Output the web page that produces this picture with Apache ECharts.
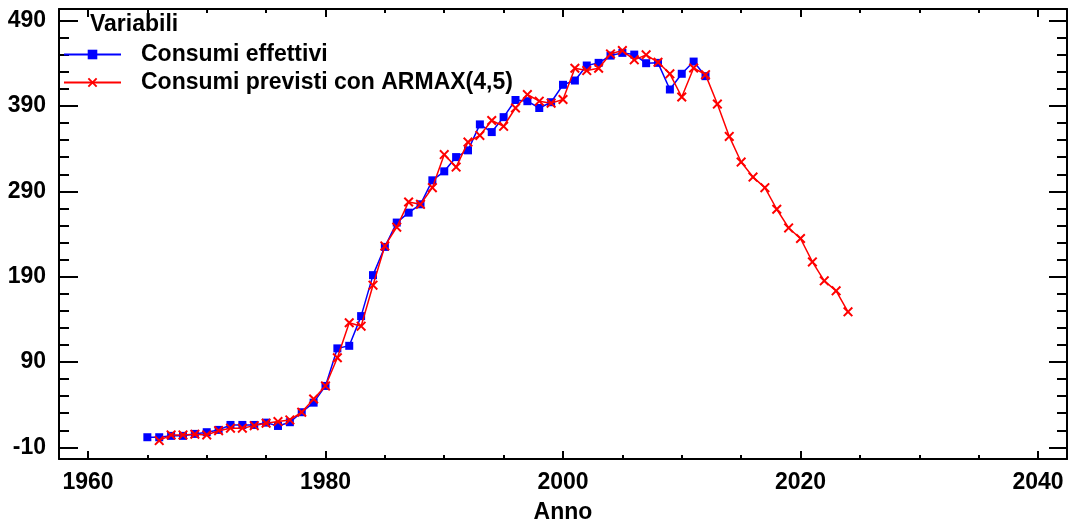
<!DOCTYPE html>
<html>
<head>
<meta charset="utf-8">
<script src="https://cdn.jsdelivr.net/npm/echarts@6/dist/echarts.min.js"></script>
<style>html,body{margin:0;padding:0;background:#fff}#c{width:1070px;height:526px}</style>
</head>
<body>
<div id="c"></div>
<script>
// ---- data ----
var actualYears = [1965,1966,1967,1968,1969,1970,1971,1972,1973,1974,1975,1976,1977,1978,1979,1980,1981,1982,1983,1984,1985,1986,1987,1988,1989,1990,1991,1992,1993,1994,1995,1996,1997,1998,1999,2000,2001,2002,2003,2004,2005,2006,2007,2008,2009,2010,2011,2012];
var actualValues = [1.9,1.9,3.5,3.5,5.8,7.8,10.5,16.3,16.3,16.3,19,15.1,19.5,31.2,42.4,62,106,109,143.8,191.8,224.9,253.4,265,274.8,302.9,313.4,330.1,338,368.4,359.4,376.9,397,395.6,387.6,394.4,414.8,419.8,437.4,440.5,449,452.2,450.2,440.1,440.5,409.3,427.7,442,424.9];
var forecastYears = [1966,1967,1968,1969,1970,1971,1972,1973,1974,1975,1976,1977,1978,1979,1980,1981,1982,1983,1984,1985,1986,1987,1988,1989,1990,1991,1992,1993,1994,1995,1996,1997,1998,1999,2000,2001,2002,2003,2004,2005,2006,2007,2008,2009,2010,2011,2012,2013,2014,2015,2016,2017,2018,2019,2020,2021,2022,2023,2024];
var forecastValues = [-2.0,4.6,4.6,5.4,4.6,9.6,12.5,12.5,15.5,18.3,20.2,22.2,31.2,46.7,62,95,136,132,180,226,248,277.5,274.8,294.3,333,318.4,347.7,355.5,373,366.2,387.6,403.4,395.6,393.3,397.6,434.2,431.5,434.2,451,454.9,444,449.9,441.2,427.7,400.5,434.5,426.7,392.2,354.3,324.3,306.7,294.3,269,247.1,234.7,207.3,185.1,173.4,148.8];
var seriesNames = ['Consumi effettivi','Consumi previsti con ARMAX(4,5)'];
var legendTitle = 'Variabili';
var xAxisName = 'Anno';
var xMajorTicks = [1960,1980,2000,2020,2040];
var xMinorTicks = [1965,1970,1975,1985,1990,1995,2005,2010,2015,2025,2030,2035];
var yMajorTicks = [-10,90,190,290,390,490];
var yMinorTicks = [10,30,50,70,110,130,150,170,210,230,250,270,310,330,350,370,410,430,450,470];

function pairs(xs, ys){ var out=[]; for(var i=0;i<xs.length;i++){ out.push([xs[i], ys[i]]); } return out; }

var FONT = '"Liberation Sans", Arial, sans-serif';
var X_MIN = 1957.56, X_MAX = 2042.44, Y_MIN = -23.6, Y_MAX = 503.6;
var crossPath = 'path://M0,1.4L1.4,0L5,3.6L8.6,0L10,1.4L6.4,5L10,8.6L8.6,10L5,6.4L1.4,10L0,8.6L3.6,5Z';

function xAx(pos, ticks, len, showLine, showLabel){
  return {
    type:'value', position:pos, min:X_MIN, max:X_MAX, gridIndex:0,
    name: (pos==='bottom' && showLabel) ? xAxisName : '',
    nameLocation:'middle', nameGap:42,
    nameTextStyle:{fontFamily:FONT, fontSize:23, fontWeight:'bold', color:'#000'},
    axisLine:{show:showLine, onZero:false, lineStyle:{color:'#000', width:2}},
    axisTick:{show:true, inside:true, length:len, customValues:ticks, lineStyle:{color:'#000', width:2}},
    axisLabel:{show:showLabel, customValues:ticks, margin:12, formatter:function(v){return String(Math.round(v));},
      fontFamily:FONT, fontSize:23, fontWeight:'bold', color:'#000'},
    splitLine:{show:false}
  };
}
function yAx(pos, ticks, len, showLine, showLabel){
  return {
    type:'value', position:pos, min:Y_MIN, max:Y_MAX, gridIndex:0,
    axisLine:{show:showLine, onZero:false, lineStyle:{color:'#000', width:2}},
    axisTick:{show:true, inside:true, length:len, customValues:ticks, lineStyle:{color:'#000', width:2}},
    axisLabel:{show:showLabel, customValues:ticks, margin:13, formatter:function(v){return String(Math.round(v));},
      fontFamily:FONT, fontSize:23, fontWeight:'bold', color:'#000'},
    splitLine:{show:false}
  };
}

var chart = echarts.init(document.getElementById('c'), null, {renderer:'canvas'});
chart.setOption({
  animation:false,
  backgroundColor:'#fff',
  grid:{left:59, right:3, top:9, bottom:67, containLabel:false, outerBoundsMode:'none'},
  title:{text:legendTitle, left:90, top:13, padding:0,
    textStyle:{fontFamily:FONT, fontSize:23, fontWeight:'bold', color:'#000'}},
  legend:{
    orient:'vertical', left:63, top:43, padding:0, itemGap:5,
    itemWidth:57, itemHeight:12,
    data:seriesNames,
    textStyle:{fontFamily:FONT, fontSize:23, fontWeight:'bold', color:'#000', padding:[0,0,0,15]}
  },
  xAxis:[
    xAx('bottom', xMajorTicks, 8, true, true),
    xAx('bottom', xMinorTicks, 4, false, false),
    xAx('top', xMajorTicks, 8, true, false),
    xAx('top', xMinorTicks, 4, false, false)
  ],
  yAxis:[
    yAx('left', yMajorTicks, 19, true, true),
    yAx('left', yMinorTicks, 10, false, false),
    yAx('right', yMajorTicks, 18, true, false),
    yAx('right', yMinorTicks, 10, false, false)
  ],
  series:[
    {name:seriesNames[0], type:'line', xAxisIndex:0, yAxisIndex:0,
     data:pairs(actualYears, actualValues),
     symbol:'rect', symbolSize:8, showSymbol:true, showAllSymbol:true,
     lineStyle:{color:'#0000ff', width:1.5}, itemStyle:{color:'#0000ff'}, z:2},
    {name:seriesNames[1], type:'line', xAxisIndex:0, yAxisIndex:0,
     data:pairs(forecastYears, forecastValues),
     symbol:crossPath, symbolSize:10, showSymbol:true, showAllSymbol:true,
     lineStyle:{color:'#ff0000', width:1.5}, itemStyle:{color:'#ff0000'}, z:3}
  ]
});
</script>
</body>
</html>
